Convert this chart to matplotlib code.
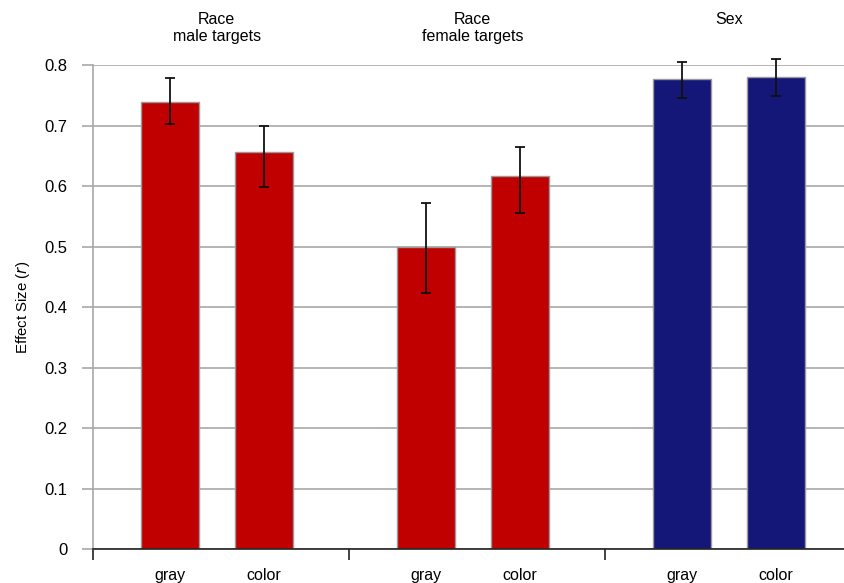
import matplotlib.pyplot as plt

plt.rcParams['font.family'] = ['Liberation Sans', 'DejaVu Sans']

group_titles = ['Race\nmale targets', 'Race\nfemale targets', 'Sex']
bar_labels = ['gray', 'color', 'gray', 'color', 'gray', 'color']
effect = [0.739, 0.656, 0.499, 0.617, 0.777, 0.780]
err_low = [0.702, 0.598, 0.423, 0.555, 0.745, 0.749]
err_high = [0.778, 0.699, 0.572, 0.664, 0.805, 0.810]
bar_colors = ['#C00000', '#C00000', '#C00000', '#C00000', '#141678', '#141678']

fig = plt.figure(figsize=(8.44, 5.83), dpi=100)
ax = fig.add_axes([0.110, 0.0583, 0.89, 0.8302])

xs = []
for i in range(len(effect)):
    g = i // 2
    xs.append(g * 3 + (0.9 if i % 2 == 0 else 2.0))

yerr = [[e - lo for e, lo in zip(effect, err_low)],
        [hi - e for e, hi in zip(effect, err_high)]]

ax.bar(xs, effect, width=0.68, color=bar_colors, edgecolor='#9a9a9a',
       linewidth=1.0, zorder=3)
eb = ax.errorbar(xs, effect, yerr=yerr, fmt='none', ecolor='#111111',
                 elinewidth=1.3, capsize=3.5, capthick=1.3, zorder=4)
for artist in eb.lines[1] + eb.lines[2]:
    artist.set_clip_on(False)

ax.set_xlim(0, 8.8)
ax.set_ylim(0, 0.8)
ax.set_yticks([0, 0.1, 0.2, 0.3, 0.4, 0.5, 0.6, 0.7, 0.8])
ax.set_yticklabels(['0', '0.1', '0.2', '0.3', '0.4', '0.5', '0.6', '0.7', '0.8'],
                   fontsize=12)
ax.grid(axis='y', color='#a8a8a8', linewidth=1.2, zorder=0)
ax.tick_params(axis='y', length=8, width=1.2, color='#a8a8a8', pad=10)

ax.set_xticks(xs)
ax.set_xticklabels(bar_labels, fontsize=11.5)
ax.tick_params(axis='x', which='major', length=0, pad=14)
ax.set_xticks([0, 3, 6], minor=True)
ax.tick_params(axis='x', which='minor', length=8, width=1.2, color='#222222')

for side in ['top', 'right']:
    ax.spines[side].set_visible(False)
ax.spines['left'].set_color('#a8a8a8')
ax.spines['left'].set_linewidth(1.2)
ax.spines['bottom'].set_color('#222222')
ax.spines['bottom'].set_linewidth(1.2)
ax.spines['bottom'].set_zorder(5)

ax.set_ylabel('Effect Size ($\\it{r}$)', fontsize=10.8, labelpad=9)

for g, title in enumerate(group_titles):
    cx = (xs[2 * g] + xs[2 * g + 1]) / 2
    ax.text(cx, 0.888, title, ha='center', va='top',
            fontsize=11.5, linespacing=1.2, clip_on=False)

fig.savefig('out.png', dpi=100)
